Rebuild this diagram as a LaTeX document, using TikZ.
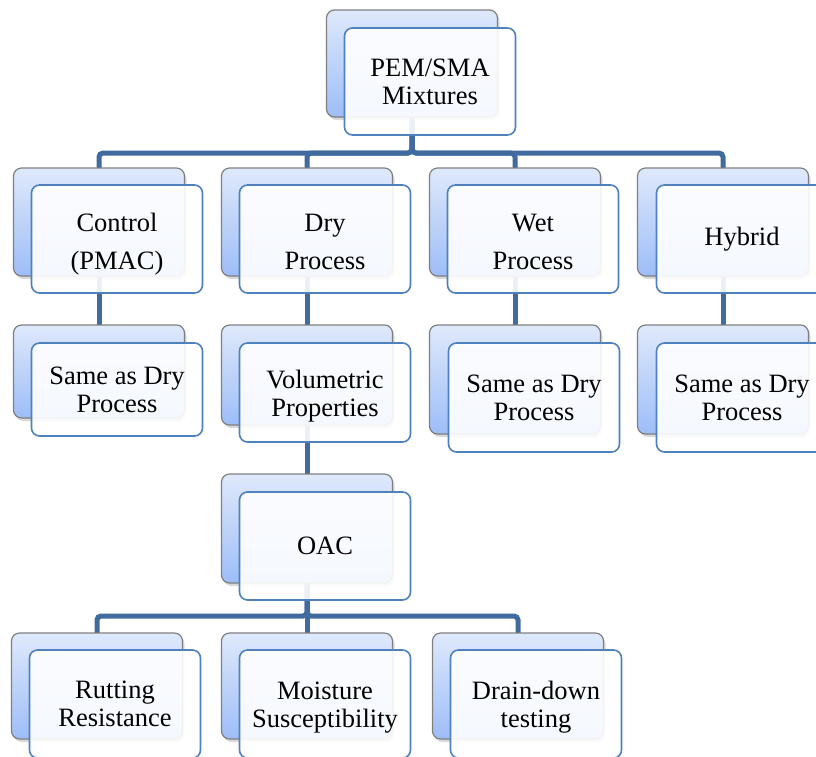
\documentclass[tikz,border=0pt]{standalone}
\usepackage{fontspec}
\setmainfont{Liberation Serif}
\newfontfamily\tnrfont{Liberation Serif}
\usetikzlibrary{shadows,backgrounds}
\definecolor{connc}{HTML}{416A9F}
\definecolor{backtop}{HTML}{DFE9FB}
\definecolor{backbot}{HTML}{9DBDF8}
\definecolor{backline}{HTML}{7F7F7F}
\definecolor{frontline}{HTML}{4F81BD}
\tikzset{
  backbox/.style={draw=backline, line width=1.2pt, rounded corners=8pt,
    top color=backtop, bottom color=backbot, minimum width=171pt,
    inner sep=0pt, drop shadow={shadow xshift=2pt, shadow yshift=-3pt, opacity=0.3}},
  frontbox/.style={draw=frontline, line width=1.6pt, rounded corners=8pt,
    fill=white, fill opacity=0.9, text opacity=1, minimum width=171pt,
    inner sep=0pt, align=center, font=\tnrfont\fontsize{26.5}{28}\selectfont},
  connline/.style={draw=connc, line width=5pt, rounded corners=4pt}
}
\begin{document}
\begin{tikzpicture}[x=1pt,y=-1pt]
\clip (0,0) rectangle (816,756);
% top
\node[backbox, minimum height=107pt] (pemb) at (412,63.5) {};
\node[frontbox, minimum height=107pt] (pemf) at (430,81.5) {PEM/SMA\\Mixtures};
% row 1
\node[backbox, minimum height=108pt] (ctlb) at (99,222) {};
\node[frontbox, minimum height=108pt, text height=60pt, text depth=0pt] (ctlf) at (117,239) {Control\\[10pt](PMAC)};
\node[backbox, minimum height=108pt] (dryb) at (307,222) {};
\node[frontbox, minimum height=108pt, text height=60pt, text depth=0pt] (dryf) at (325,239) {Dry\\[10pt]Process};
\node[backbox, minimum height=108pt] (wetb) at (515,222) {};
\node[frontbox, minimum height=108pt, text height=60pt, text depth=0pt] (wetf) at (533,239) {Wet\\[10pt]Process};
\node[backbox, minimum height=108pt] (hybb) at (723,222) {};
\node[frontbox, minimum height=108pt] (hybf) at (742,239) {Hybrid};
% row 2
\node[backbox, minimum height=93pt] (s1b) at (99,371.5) {};
\node[frontbox, minimum height=93pt] (s1f) at (117,389.5) {Same as Dry\\Process};
\node[backbox, minimum height=100pt] (volb) at (307,375) {};
\node[frontbox, minimum height=99pt, text height=47pt, text depth=0pt] (volf) at (325,392.5) {Volumetric\\Properties};
\node[backbox, minimum height=109pt] (s3b) at (515,379.5) {};
\node[frontbox, minimum height=109pt] (s3f) at (534,397.5) {Same as Dry\\Process};
\node[backbox, minimum height=109pt] (s4b) at (723,379.5) {};
\node[frontbox, minimum height=109pt] (s4f) at (742,397.5) {Same as Dry\\Process};
% row 3
\node[backbox, minimum height=109pt] (oacb) at (307,528.5) {};
\node[frontbox, minimum height=108pt] (oacf) at (325,546) {OAC};
% row 4
\node[backbox, minimum height=106pt] (rutb) at (97,686) {};
\node[frontbox, minimum height=108pt] (rutf) at (115,704) {Rutting\\Resistance};
\node[backbox, minimum height=106pt] (moib) at (307,686) {};
\node[frontbox, minimum height=108pt, text height=46pt, text depth=0pt] (moif) at (325,704) {Moisture\\Susceptibility};
\node[backbox, minimum height=106pt] (drnb) at (518,686) {};
\node[frontbox, minimum height=108pt, text height=46pt, text depth=0pt] (drnf) at (536,704) {Drain-down\\testing};
% connectors
\coordinate (bus1) at (412,153);
\coordinate (bus2) at (307,616);
\begin{scope}[on background layer]
\draw[connline] (pemb.center) -- (pemb.center |- bus1) -| (ctlb.center);
\draw[connline] (pemb.center) -- (pemb.center |- bus1) -| (dryb.center);
\draw[connline] (pemb.center) -- (pemb.center |- bus1) -| (wetb.center);
\draw[connline] (pemb.center) -- (pemb.center |- bus1) -| (hybb.center);
\draw[connline] (ctlb.center) -- (s1b.center);
\draw[connline] (dryb.center) -- (volb.center);
\draw[connline] (wetb.center) -- (s3b.center);
\draw[connline] (hybb.center) -- (s4b.center);
\draw[connline] (volb.center) -- (oacb.center);
\draw[connline] (oacb.center) -- (oacb.center |- bus2) -| (rutb.center);
\draw[connline] (oacb.center) -- (oacb.center |- bus2) -| (moib.center);
\draw[connline] (oacb.center) -- (oacb.center |- bus2) -| (drnb.center);
\end{scope}
\end{tikzpicture}
\end{document}
